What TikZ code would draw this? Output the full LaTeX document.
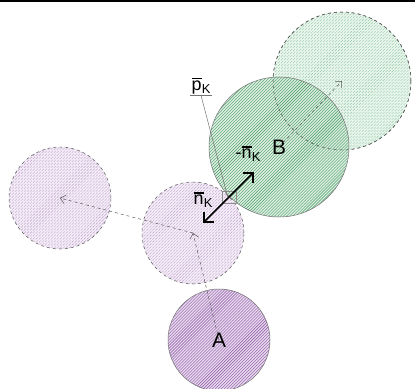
\documentclass[tikz,border=0pt]{standalone}
\usepackage{fontspec}
\setmainfont{Liberation Sans}
\usetikzlibrary{patterns,arrows.meta}
\definecolor{lilacDark}{HTML}{8B55A0}
\definecolor{lilacPale}{HTML}{E6D8EE}
\definecolor{lilacLight}{HTML}{BFA2CD}
\definecolor{lilacWash}{HTML}{F4EDF7}
\definecolor{mintDark}{HTML}{4A9C63}
\definecolor{mintPale}{HTML}{D3EADB}
\definecolor{mintLight}{HTML}{93CBA4}
\definecolor{mintWash}{HTML}{EAF5EE}
\newcommand{\vecbar}[1]{\leavevmode\vbox{\hrule height 1.3pt\kern1.6pt\hbox{#1}}\kern0.3pt{\fontsize{13}{14}\selectfont\raisebox{-3pt}{K}}}
\tikzset{
  disc/.style={circle, inner sep=0pt, minimum size=#1, line width=0.5pt,
    font=\fontsize{21}{23}\selectfont},
  ghost/.style={dashed, draw=black!65},
  solid disc/.style={draw=black!55},
  hatch/.style 2 args={preaction={fill=#2}, pattern=north east lines, pattern color=#1},
  move/.style={dashed, draw=black!65, line width=0.5pt, -{Straight Barb[length=5bp, width=9bp]}},
  normal/.style={line width=1.6pt, {Straight Barb[length=7bp, width=14bp]}-{Straight Barb[length=7bp, width=14bp]}},
  lbl/.style={inner sep=1pt, font=\fontsize{18}{20}\selectfont},
  leader/.style={draw=black!55, line width=0.5pt},
}
\begin{document}
\begin{tikzpicture}[x=1bp, y=-1bp]
  \useasboundingbox (0,0) rectangle (415,389);
  \draw[line width=2.5bp] (0,1.2) -- (415,1.2);
  % lilac discs
  \node[disc=102bp, ghost, hatch={lilacLight}{lilacWash}] (L) at (60,198) {};
  \node[disc=102bp, ghost, hatch={lilacLight}{lilacWash}] (M) at (193,233) {};
  \node[disc=102bp, solid disc, hatch={lilacDark}{lilacPale}] (A) at (219,340) {A};
  % green discs
  \node[disc=138bp, ghost, hatch={mintLight}{mintWash}] (T) at (342,81) {};
  \node[disc=140bp, solid disc, hatch={mintDark}{mintPale}, fill opacity=0.8, text opacity=1] (B) at (279,147) {B};
  \draw[ghost, line width=0.5pt] (T) circle (69bp);
  % moves
  \draw[move] (A.center) -- (M.center);
  \draw[move] (M.center) -- (L.center);
  \draw[move] (B.center) -- (T.center);
  % contact
  \coordinate (K) at (228,198);
  \draw[draw=black!45, line width=0.4pt] (222,191) rectangle (236,203);
  \coordinate (nK) at (203,223);
  \coordinate (mK) at (254,172);
  \draw[normal] (nK) -- (mK);
  \node[lbl] (n) at (203,200) {\vecbar{n}};
  \node[lbl] (m) at (248,154) {-\vecbar{n}};
  \node[lbl] (p) at (201,86) {\vecbar{p}};
  \draw[leader] (p.south west) -- (p.south east);
  \draw[leader] (p.south) -- (K);
\end{tikzpicture}
\end{document}
